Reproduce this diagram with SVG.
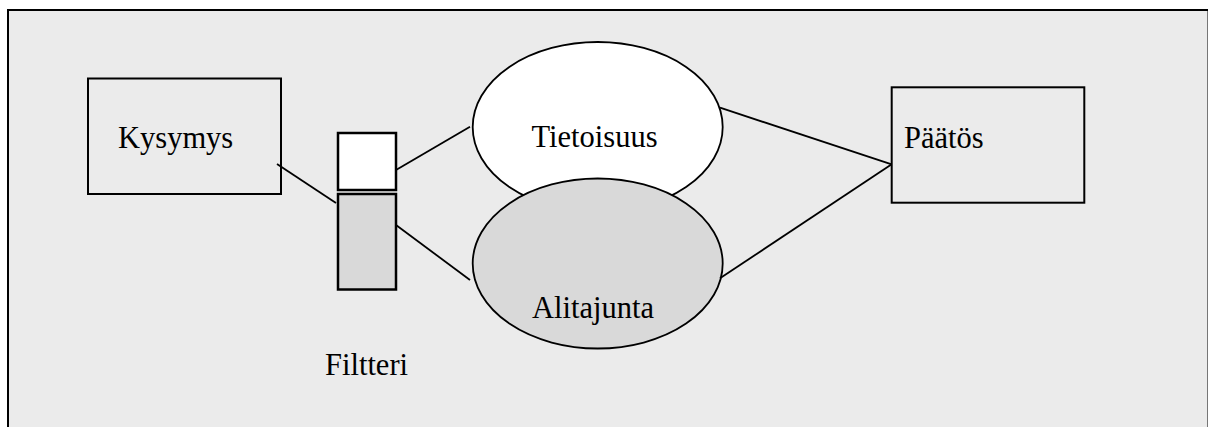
<svg xmlns="http://www.w3.org/2000/svg" width="1208" height="427" viewBox="0 0 1208 427">
<style>
.lbl{font-family:"Liberation Serif","Times New Roman",serif;font-size:30.5px;fill:#000}
.box{fill:none;stroke:#000;stroke-width:2}
.fbox{stroke:#000;stroke-width:2.5}
.ell{stroke:#000;stroke-width:1.8}
.conn line{stroke:#000;stroke-width:1.8}
</style>
<rect x="0" y="0" width="1208" height="427" fill="#fff"/>
<g id="frame">
<rect x="8" y="10" width="1200.5" height="430" fill="#ebebeb" stroke="#000" stroke-width="2"/>
</g>
<g id="kysymys">
<rect class="box" x="88" y="78.5" width="193" height="115.5"/>
<text class="lbl" x="118" y="148">Kysymys</text>
</g>
<g id="filtteri">
<rect class="fbox" x="338" y="133" width="58" height="57" fill="#fff"/>
<rect class="fbox" x="338" y="194" width="58" height="95.5" fill="#d9d9d9"/>
<text class="lbl" x="325" y="375">Filtteri</text>
</g>
<g id="tietoisuus">
<ellipse class="ell" cx="597.7" cy="127" rx="125" ry="85" fill="#fff"/>
<text class="lbl" x="531.5" y="147">Tietoisuus</text>
</g>
<g id="alitajunta">
<ellipse class="ell" cx="597.7" cy="263.5" rx="125" ry="85" fill="#d9d9d9"/>
<text class="lbl" x="532" y="318">Alitajunta</text>
</g>
<g id="paatos">
<rect class="box" x="891.7" y="87.3" width="192.6" height="115.4"/>
<text class="lbl" x="904" y="148.3">Päätös</text>
</g>
<g class="conn" id="connectors">
<line x1="277" y1="164" x2="336" y2="203"/>
<line x1="396" y1="170" x2="470" y2="126.7"/>
<line x1="396" y1="225" x2="470" y2="280"/>
<line x1="720" y1="107.7" x2="891.7" y2="164.3"/>
<line x1="720" y1="278.3" x2="891.7" y2="164.3"/>
</g>
</svg>
